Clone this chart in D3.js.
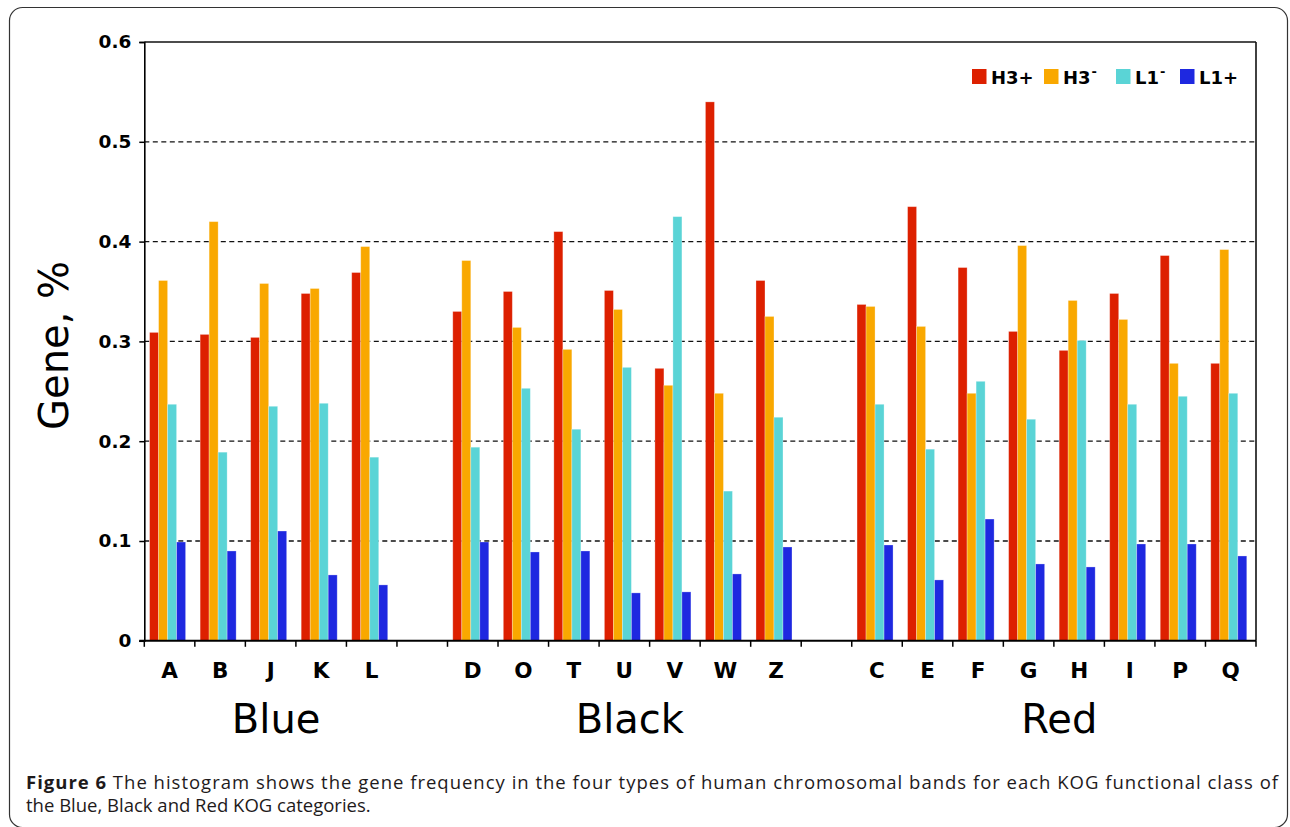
<!DOCTYPE html>
<html>
<head>
<meta charset="utf-8">
<script src="https://cdn.jsdelivr.net/npm/d3@7"></script>
<style>
  html, body { margin: 0; padding: 0; background: #fff; }
  svg { display: block; }
</style>
</head>
<body>
<svg id="chart" width="1290" height="827"></svg>
<script>
// ---------- DATA ----------
const blueCats  = ["A", "B", "J", "K", "L"];
const blackCats = ["D", "O", "T", "U", "V", "W", "Z"];
const redCats   = ["C", "E", "F", "G", "H", "I", "P", "Q"];
const categories = blueCats.concat(blackCats, redCats);

const groupNames = ["Blue", "Black", "Red"];

const seriesNames = ["H3+", "H3-", "L1-", "L1+"];
const seriesColors = ["#DD2000", "#F9A800", "#5AD4D6", "#1E28E0"];

//                A      B      J      K      L      D      O      T      U      V      W      Z      C      E      F      G      H      I      P      Q
const h3plus  = [0.309, 0.307, 0.304, 0.348, 0.369, 0.330, 0.350, 0.410, 0.351, 0.273, 0.540, 0.361, 0.337, 0.435, 0.374, 0.310, 0.291, 0.348, 0.386, 0.278];
const h3minus = [0.361, 0.420, 0.358, 0.353, 0.395, 0.381, 0.314, 0.292, 0.332, 0.256, 0.248, 0.325, 0.335, 0.315, 0.248, 0.396, 0.341, 0.322, 0.278, 0.392];
const l1minus = [0.237, 0.189, 0.235, 0.238, 0.184, 0.194, 0.253, 0.212, 0.274, 0.425, 0.150, 0.224, 0.237, 0.192, 0.260, 0.222, 0.301, 0.237, 0.245, 0.248];
const l1plus  = [0.099, 0.090, 0.110, 0.066, 0.056, 0.099, 0.089, 0.090, 0.048, 0.049, 0.067, 0.094, 0.096, 0.061, 0.122, 0.077, 0.074, 0.097, 0.097, 0.085];

const yTicks = [0, 0.1, 0.2, 0.3, 0.4, 0.5, 0.6];
const yLabel = "Gene, %";
const captionBold = "Figure 6";
const captionLine1 = " The histogram shows the gene frequency in the four types of human chromosomal bands for each KOG functional class of";
const captionLine2 = "the Blue, Black and Red KOG categories.";

// ---------- LAYOUT ----------
const svg = d3.select("#chart");
const plot = { left: 144.3, right: 1256, top: 42, bottom: 640.8 };

// slots: categories plus two empty gap slots between groups
const slots = blueCats.concat(["_gap1"], blackCats, ["_gap2"], redCats);
const x = d3.scaleBand().domain(slots).range([plot.left, plot.right]).padding(0);
const xInner = d3.scaleBand().domain(seriesNames).range([5.3, 41.3]).padding(0);
const y = d3.scaleLinear().domain([0, 0.6]).range([plot.bottom, plot.top]);

const seriesValues = [h3plus, h3minus, l1minus, l1plus];

// outer frame
svg.append("rect")
  .attr("x", 9.5).attr("y", 7.5)
  .attr("width", 1278).attr("height", 820)
  .attr("rx", 13).attr("ry", 13)
  .attr("fill", "none").attr("stroke", "#333").attr("stroke-width", 1.2);

// gridlines (dashed)
svg.append("g").selectAll("line")
  .data(yTicks.filter(d => d > 0 && d < 0.6))
  .join("line")
  .attr("x1", plot.left).attr("x2", plot.right)
  .attr("y1", d => y(d)).attr("y2", d => y(d))
  .attr("stroke", "#111").attr("stroke-width", 1.3)
  .attr("stroke-dasharray", "5,3.5");

// top & right border
svg.append("line")
  .attr("x1", plot.left).attr("x2", plot.right)
  .attr("y1", y(0.6)).attr("y2", y(0.6))
  .attr("stroke", "#111").attr("stroke-width", 1.4);
svg.append("line")
  .attr("x1", plot.right).attr("x2", plot.right)
  .attr("y1", y(0.6)).attr("y2", y(0))
  .attr("stroke", "#111").attr("stroke-width", 1.6);

// bars
const barData = [];
categories.forEach((c, i) => {
  seriesNames.forEach((s, j) => {
    barData.push({ cat: c, series: s, value: seriesValues[j][i], color: seriesColors[j] });
  });
});
svg.append("g").selectAll("rect")
  .data(barData)
  .join("rect")
  .attr("x", d => x(d.cat) + xInner(d.series))
  .attr("width", xInner.bandwidth())
  .attr("y", d => y(d.value))
  .attr("height", d => y(0) - y(d.value))
  .attr("fill", d => d.color)
  .attr("stroke", "#fff").attr("stroke-opacity", 0.35).attr("stroke-width", 0.8);

// y axis
const yAxis = svg.append("g")
  .attr("transform", `translate(${plot.left},0)`)
  .call(d3.axisLeft(y).tickValues(yTicks).tickSize(5).tickPadding(8)
    .tickFormat(d => d === 0 ? "0" : d3.format(".1f")(d)));
yAxis.select(".domain").attr("stroke", "#000").attr("stroke-width", 1.6);
yAxis.selectAll(".tick line").attr("stroke", "#000").attr("stroke-width", 1.5);
yAxis.selectAll(".tick text")
  .attr("font-family", "DejaVu Sans").attr("font-weight", "bold")
  .attr("font-size", 18.5).attr("fill", "#000");

// x axis: line, boundary ticks, labels
svg.append("line")
  .attr("x1", plot.left - 5).attr("x2", plot.right)
  .attr("y1", y(0)).attr("y2", y(0))
  .attr("stroke", "#000").attr("stroke-width", 2);
const boundaries = slots.map(s => x(s)).concat([plot.right]);
svg.append("g").selectAll("line")
  .data(boundaries)
  .join("line")
  .attr("x1", d => d).attr("x2", d => d)
  .attr("y1", y(0)).attr("y2", y(0) + 6)
  .attr("stroke", "#000").attr("stroke-width", 1.5);
svg.append("g").selectAll("text")
  .data(categories)
  .join("text")
  .attr("x", d => x(d) + x.bandwidth() / 2)
  .attr("y", 678)
  .attr("text-anchor", "middle")
  .attr("font-family", "DejaVu Sans").attr("font-weight", "bold")
  .attr("font-size", 21.5).attr("fill", "#000")
  .text(d => d);

// group labels
const groups = [blueCats, blackCats, redCats];
svg.append("g").selectAll("text")
  .data(groups)
  .join("text")
  .attr("x", g => (x(g[0]) + x(g[g.length - 1]) + x.bandwidth()) / 2 + 5.5)
  .attr("y", 733)
  .attr("text-anchor", "middle")
  .attr("font-family", "DejaVu Sans")
  .attr("font-size", 40).attr("fill", "#000")
  .text((g, i) => groupNames[i]);

// y label
svg.append("text")
  .attr("transform", `translate(68,${(plot.top + plot.bottom) / 2 + 4}) rotate(-90)`)
  .attr("text-anchor", "middle")
  .attr("font-family", "DejaVu Sans")
  .attr("font-size", 40).attr("fill", "#000")
  .text(yLabel);

// legend
const legendX = [972, 1044, 1116, 1180];
const legend = svg.append("g");
seriesNames.forEach((s, i) => {
  const g = legend.append("g").attr("transform", `translate(${legendX[i]},69)`);
  g.append("rect").attr("width", 14.5).attr("height", 15).attr("fill", seriesColors[i]);
  const t = g.append("text")
    .attr("x", 19).attr("y", 14.5)
    .attr("font-family", "DejaVu Sans").attr("font-weight", "bold")
    .attr("font-size", 18).attr("fill", "#000");
  const base = s.slice(0, 2);
  const sign = s.slice(2);
  t.append("tspan").text(base);
  if (sign === "+") {
    t.append("tspan").text("+");
  } else {
    t.append("tspan").attr("font-size", 13).attr("dy", -8).attr("dx", 1).text("-");
  }
});

// caption
const cap = svg.append("g").attr("font-family", "Open Sans").attr("fill", "#1e1a1b");
const c1 = cap.append("text")
  .attr("x", 26).attr("y", 789)
  .attr("font-size", 18.5)
  .attr("textLength", 1252).attr("lengthAdjust", "spacing");
c1.append("tspan").attr("font-weight", "bold").text(captionBold);
c1.append("tspan").text(captionLine1);
cap.append("text")
  .attr("x", 26).attr("y", 812)
  .attr("font-size", 18.5)
  .text(captionLine2);
</script>
</body>
</html>
